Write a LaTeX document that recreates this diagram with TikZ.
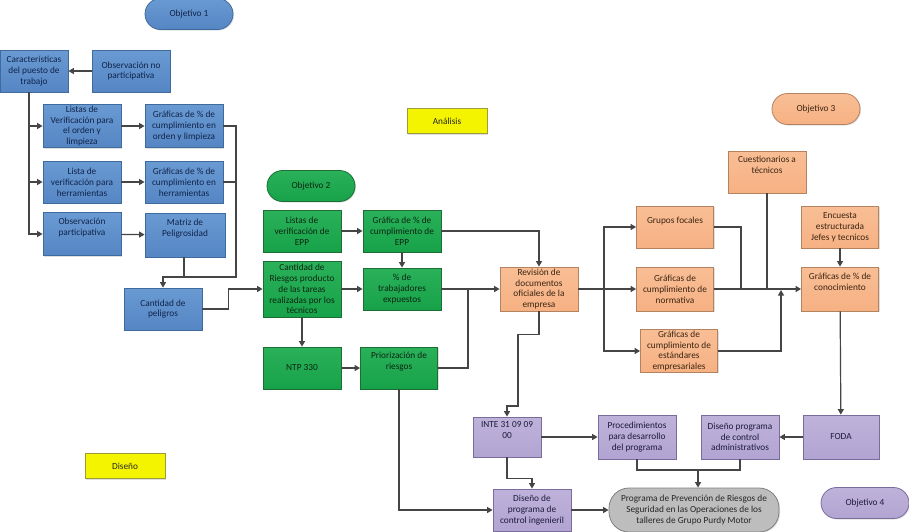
\documentclass[tikz,border=0pt]{standalone}
\usepackage{fontspec}
\setmainfont{Carlito}
\usetikzlibrary{arrows.meta,shadows}

\definecolor{bluefill}{HTML}{5586C4}
\definecolor{bluetop}{HTML}{6A9AD2}
\definecolor{blueline}{HTML}{3E6A9E}
\definecolor{bluetext}{HTML}{10244A}
\definecolor{greenfill}{HTML}{17A24A}
\definecolor{greentop}{HTML}{2AB159}
\definecolor{greenline}{HTML}{1B6E34}
\definecolor{greentext}{HTML}{0B2612}
\definecolor{orangefill}{HTML}{F6B183}
\definecolor{orangetop}{HTML}{F9BE95}
\definecolor{orangeline}{HTML}{B3825F}
\definecolor{orangetext}{HTML}{3B2412}
\definecolor{purplefill}{HTML}{B2A4D2}
\definecolor{purpletop}{HTML}{BEB2DA}
\definecolor{purpleline}{HTML}{7B6C9E}
\definecolor{purpletext}{HTML}{1D1A3C}
\definecolor{grayfill}{HTML}{BDBDBD}
\definecolor{grayline}{HTML}{808080}
\definecolor{yellowfill}{HTML}{F4F400}
\definecolor{yellowline}{HTML}{9C9C3A}
\definecolor{wire}{HTML}{454545}

\tikzset{
  box/.style={draw, line width=0.8pt, minimum width=78pt, minimum height=42pt,
    inner sep=1pt, align=center, font=\fontsize{9.3}{10.8}\selectfont,
    drop shadow={shadow xshift=1pt, shadow yshift=-1pt, opacity=0.25}},
  bluebox/.style={box, top color=bluetop, bottom color=bluefill, draw=blueline, text=bluetext},
  greenbox/.style={box, top color=greentop, bottom color=greenfill, draw=greenline, text=greentext},
  orangebox/.style={box, top color=orangetop, bottom color=orangefill, draw=orangeline, text=orangetext},
  purplebox/.style={box, top color=purpletop, bottom color=purplefill, draw=purpleline, text=purpletext},
  pill/.style={box, minimum width=88pt, minimum height=31pt, rounded corners=15.5pt},
  tagbox/.style={box, fill=yellowfill, draw=yellowline, text=black!85, minimum width=80pt, minimum height=25pt},
  conn/.style={draw=wire, line width=1.2pt, -{Triangle[width=6pt,length=5.5pt]}},
  wireline/.style={draw=wire, line width=1.2pt},
}

\begin{document}
\begin{tikzpicture}[x=1pt,y=-1pt]
\useasboundingbox[fill=white] (0,0) rectangle (909,531);

% ---- objective labels and phase tags
\node[pill, top color=bluetop, bottom color=bluefill, draw=blueline, text=bluetext] (obj1) at (189,14) {Objetivo 1};
\node[pill, top color=greentop, bottom color=greenfill, draw=greenline, text=greentext] (obj2) at (311,186) {Objetivo 2};
\node[pill, top color=orangetop, bottom color=orangefill, draw=orangeline, text=orangetext] (obj3) at (816,109) {Objetivo 3};
\node[pill, top color=purpletop, bottom color=purplefill, draw=purpleline, text=purpletext] (obj4) at (865,503) {Objetivo 4};
\node[tagbox] (analisis) at (447,121) {Análisis};
\node[tagbox] (diseno) at (125,466) {Diseño};

% ---- objective 1 (blue)
\node[bluebox, minimum width=68pt] (carac) at (34,71) {Características\\del puesto de\\trabajo};
\node[bluebox] (obsno) at (131,71) {Observación no\\participativa};
\node[bluebox, minimum height=43pt] (listas1) at (82,126) {Listas de\\Verificación para\\el orden y\\limpieza};
\node[bluebox, minimum height=43pt] (graf1) at (184,126) {Gráficas de \% de\\cumplimiento en\\orden y limpieza};
\node[bluebox] (listas2) at (82,182) {Lista de\\verificación para\\herramientas};
\node[bluebox] (graf2) at (184,182) {Gráficas de \% de\\cumplimiento en\\herramientas};
\node[bluebox, minimum height=43pt] (obspart) at (82,234) {Observación\\participativa\\[3pt]};
\node[bluebox, minimum width=80pt, minimum height=44pt] (matriz) at (185,235) {Matriz de\\Peligrosidad\\[3pt]};
\node[bluebox] (peligros) at (163,309) {Cantidad de\\peligros};

% ---- objective 2 (green)
\node[greenbox] (epp1) at (302,231) {Listas de\\verificación de\\EPP};
\node[greenbox] (epp2) at (402,231) {Gráfica de \% de\\cumplimiento de\\EPP};
\node[greenbox, minimum height=56pt] (riesgos) at (302,289) {Cantidad de\\Riesgos producto\\de las tareas\\realizadas por los\\técnicos};
\node[greenbox] (expuestos) at (402,289) {\% de\\trabajadores\\expuestos};
\node[greenbox] (ntp) at (302,368) {NTP 330};
\node[greenbox, minimum width=77pt] (prior) at (399,368) {Priorización de\\riesgos\\[3pt]};

% ---- objective 3 (orange)
\node[orangebox, minimum height=44pt] (revision) at (539,289) {Revisión de\\documentos\\oficiales de la\\empresa};
\node[orangebox, minimum width=77pt] (grupos) at (675,227) {Grupos focales\\[3pt]};
\node[orangebox, minimum width=77pt, minimum height=44pt] (normativa) at (675,289) {Gráficas de\\cumplimiento de\\normativa};
\node[orangebox, minimum width=77pt] (estandares) at (679,351) {Gráficas de\\cumplimiento de\\estándares\\empresariales};
\node[orangebox] (cuest) at (767,172) {Cuestionarios a\\técnicos\\[3pt]};
\node[orangebox, minimum width=77pt] (encuesta) at (840,227) {Encuesta\\estructurada\\Jefes y tecnicos};
\node[orangebox, minimum width=77pt, minimum height=44pt] (conoc) at (840,289) {Gráficas de \% de\\conocimiento\\[3pt]};

% ---- objective 4 (purple) and final programme
\node[purplebox, minimum width=68pt, minimum height=40pt] (inte) at (507,437) {INTE 31 09 09\\00\\[3pt]};
\node[purplebox, minimum height=44pt] (proc) at (637,437) {Procedimientos\\para desarrollo\\del programa};
\node[purplebox, minimum height=44pt] (admin) at (740,437) {Diseño programa\\de control\\administrativos};
\node[purplebox, minimum width=76pt, minimum height=44pt] (foda) at (841,437) {FODA};
\node[purplebox] (ing) at (532,510) {Diseño de\\programa de\\control ingenieril};
\node[box, fill=grayfill, draw=grayline, text=black!85, minimum width=170pt, minimum height=44pt, rounded corners=20pt] (prog) at (694,510) {Programa de Prevención de Riesgos de\\Seguridad en las Operaciones de los\\talleres de Grupo Purdy Motor};

% ---- connectors, objective 1
\draw[conn] (obsno) -- (carac);
\draw[conn] ([xshift=-5pt]carac.south) |- (listas1.west);
\draw[conn] ([xshift=-5pt]carac.south) |- (listas2.west);
\draw[conn] ([xshift=-5pt]carac.south) |- (obspart.west);
\draw[conn] (listas1) -- (graf1);
\draw[conn] (listas2) -- (graf2);
\draw[conn] (obspart) -- (matriz);
\coordinate (busA) at (236,277);
\draw[conn] (graf1.east) -| (busA) -| (peligros.north);
\draw[wireline] (graf2.east) -- (graf2.east -| busA);
\draw[wireline] ([xshift=-1pt]matriz.south) -- ([xshift=-1pt]matriz.south |- busA);
\draw[conn] (peligros.east) -- ++(26,0) |- (riesgos.west);

% ---- connectors, objective 2
\draw[conn] (epp1) -- (epp2);
\draw[conn] (epp2) -- (expuestos);
\draw[conn] (riesgos) -- (expuestos);
\draw[conn] (riesgos) -- (ntp);
\draw[conn] (ntp) -- (prior);
\draw[conn] (epp2.east) -| (revision.north);
\draw[conn] (expuestos) -- (revision);
\coordinate (jB) at (468,289);
\draw[wireline] (prior.east) -| (jB);

% ---- connectors, objective 3
\draw[conn] (revision) -- (normativa);
\coordinate (rb) at (604,289);
\draw[conn] (rb) |- (grupos.west);
\draw[conn] (rb) |- (estandares.west);
\draw[conn] (normativa) -- (conoc);
\coordinate (jC) at (741,289);
\draw[wireline] (grupos.east) -| (jC);
\draw[wireline] (cuest.south) -- (cuest.south |- jC);
\draw[conn] (estandares.east) -| (781,290);
\draw[conn] (encuesta) -- (conoc);
\draw[conn] (conoc) -- (foda);

% ---- connectors towards the programme
\draw[conn] (revision.south) -- ++(0,23) -| (518,406) -| (inte.north);
\draw[conn] (inte) -- (proc);
\draw[conn] (inte.south) -- ++(0,21) -| (ing.north);
\draw[conn] (prior.south) |- (ing.west);
\draw[conn] (ing) -- (prog);
\draw[conn] (foda) -- (admin);
\coordinate (jD) at (698,470);
\draw[wireline] (proc.south) |- (jD) -| (admin.south);
\draw[conn] (jD) -- (prog.north -| jD);
\end{tikzpicture}
\end{document}
